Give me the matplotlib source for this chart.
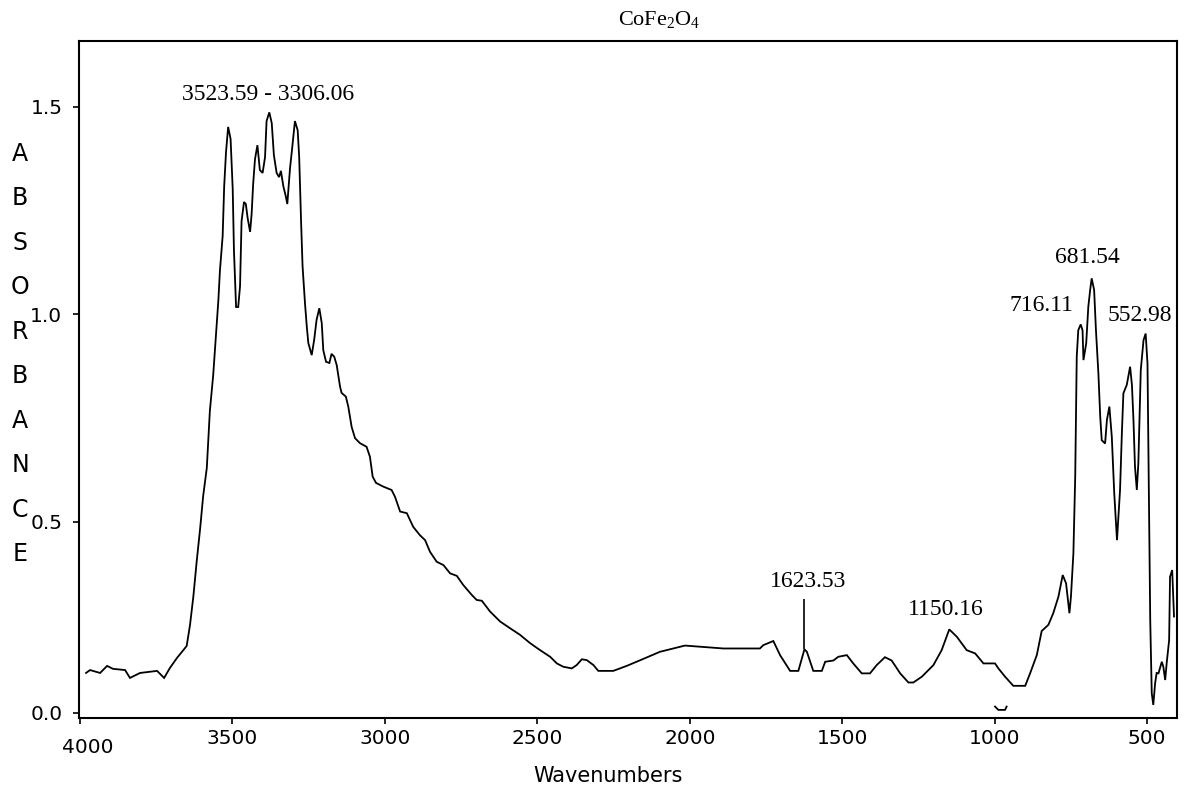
import matplotlib
matplotlib.use("Agg")
import matplotlib.pyplot as plt
from matplotlib.transforms import ScaledTranslation

# ---- data ----
wavenumbers = [3980, 3967, 3934, 3911, 3892, 3852, 3836, 3803, 3747, 3724,
               3705, 3682, 3650, 3639, 3628, 3617, 3606, 3596, 3584, 3574,
               3563, 3554, 3546, 3541, 3532, 3527, 3521, 3514, 3506, 3499,
               3495, 3488, 3481, 3475, 3470, 3462, 3456, 3450, 3442, 3437,
               3432, 3426, 3418, 3410, 3401, 3393, 3388, 3379, 3371, 3364,
               3355, 3347, 3341, 3333, 3325, 3320, 3311, 3304, 3295, 3286,
               3281, 3275, 3270, 3262, 3256, 3251, 3240, 3232, 3224, 3215,
               3207, 3202, 3193, 3182, 3175, 3166, 3158, 3147, 3142, 3128,
               3120, 3109, 3098, 3082, 3060, 3049, 3040, 3029, 3005, 2978,
               2967, 2950, 2928, 2907, 2885, 2868, 2852, 2830, 2808, 2786,
               2764, 2743, 2715, 2699, 2682, 2655, 2622, 2590, 2557, 2524,
               2491, 2458, 2436, 2415, 2387, 2371, 2354, 2338, 2316, 2300,
               2251, 2207, 2152, 2098, 2054, 2016, 1890, 1770, 1759, 1726,
               1704, 1671, 1644, 1624, 1616, 1595, 1567, 1556, 1529, 1513,
               1485, 1464, 1436, 1409, 1387, 1360, 1338, 1310, 1283, 1267,
               1239, 1201, 1174, 1149, 1124, 1092, 1064, 1037, 999, 988,
               966, 939, 900, 884, 862, 846, 824, 808, 791, 777,
               766, 755, 750, 742, 736, 731, 726, 718, 712, 709,
               700, 693, 687, 682, 674, 668, 660, 654, 649, 638,
               632, 624, 616, 608, 599, 589, 583, 578, 567, 556,
               550, 545, 540, 534, 529, 521, 512, 505, 499, 494,
               490, 485, 480, 474, 469, 463, 452, 447, 441, 436,
               428, 425, 418, 412]
absorbance = [0.135, 0.142, 0.135, 0.152, 0.145, 0.142, 0.123, 0.135, 0.140, 0.123,
              0.147, 0.171, 0.200, 0.251, 0.320, 0.405, 0.482, 0.561, 0.629, 0.766,
              0.853, 0.947, 1.034, 1.104, 1.188, 1.308, 1.390, 1.451, 1.422, 1.301,
              1.154, 1.017, 1.017, 1.067, 1.224, 1.270, 1.265, 1.231, 1.198, 1.241,
              1.313, 1.373, 1.407, 1.347, 1.340, 1.378, 1.465, 1.486, 1.460, 1.383,
              1.340, 1.330, 1.345, 1.308, 1.284, 1.265, 1.352, 1.400, 1.465, 1.443,
              1.378, 1.227, 1.116, 1.026, 0.969, 0.930, 0.901, 0.937, 0.986, 1.014,
              0.978, 0.913, 0.885, 0.882, 0.904, 0.897, 0.877, 0.825, 0.810, 0.801,
              0.777, 0.728, 0.701, 0.689, 0.680, 0.656, 0.608, 0.593, 0.584, 0.576,
              0.560, 0.524, 0.520, 0.487, 0.467, 0.455, 0.427, 0.403, 0.395, 0.375,
              0.369, 0.347, 0.323, 0.311, 0.309, 0.283, 0.259, 0.243, 0.227, 0.207,
              0.190, 0.174, 0.158, 0.150, 0.146, 0.154, 0.168, 0.166, 0.154, 0.140,
              0.140, 0.152, 0.169, 0.186, 0.194, 0.201, 0.194, 0.194, 0.202, 0.212,
              0.178, 0.140, 0.140, 0.192, 0.186, 0.140, 0.140, 0.162, 0.165, 0.174,
              0.178, 0.158, 0.134, 0.134, 0.154, 0.173, 0.165, 0.134, 0.112, 0.112,
              0.126, 0.154, 0.190, 0.240, 0.222, 0.190, 0.182, 0.158, 0.158, 0.146,
              0.126, 0.104, 0.104, 0.134, 0.178, 0.236, 0.251, 0.279, 0.319, 0.371,
              0.351, 0.279, 0.319, 0.423, 0.608, 0.897, 0.961, 0.975, 0.961, 0.889,
              0.929, 1.018, 1.058, 1.086, 1.058, 0.961, 0.857, 0.753, 0.696, 0.688,
              0.745, 0.777, 0.704, 0.568, 0.455, 0.576, 0.713, 0.809, 0.829, 0.873,
              0.829, 0.745, 0.632, 0.576, 0.640, 0.865, 0.937, 0.953, 0.881, 0.544,
              0.263, 0.086, 0.058, 0.110, 0.135, 0.134, 0.162, 0.150, 0.118, 0.159,
              0.214, 0.367, 0.383, 0.271]

# small stray mark below the curve near 1000 cm-1
stray_wn = [999, 988, 966, 961]
stray_abs = [0.054, 0.046, 0.046, 0.054]

x_ticks = [4000, 3500, 3000, 2500, 2000, 1500, 1000, 500]
x_tick_labels = ["4000", "3500", "3000", "2500", "2000", "1500", "1000", "500"]
y_tick_values = [0.039, 0.5, 1.0, 1.5]
y_tick_labels = ["0.0", "0.5", "1.0", "1.5"]

peak_labels = ["3523.59 - 3306.06", "1623.53", "1150.16", "716.11", "681.54", "552.98"]
peak_label_x = [3383, 1612, 1160, 846, 695, 523]
peak_label_y = [1.528, 0.355, 0.287, 1.020, 1.136, 0.996]
marker_line_x = 1624
marker_line_y = (0.192, 0.3125)

title_text = r"CoFe$_{2}$O$_{4}$"
x_title = "Wavenumbers"
y_title = "ABSORBANCE"

# ---- drawing ----
plt.rcParams['mathtext.fontset'] = 'custom'
plt.rcParams['mathtext.rm'] = 'Liberation Serif'
plt.rcParams['mathtext.it'] = 'Liberation Serif:italic'
plt.rcParams['font.family'] = ['DejaVu Sans']

fig = plt.figure(figsize=(11.85, 7.93), dpi=100)
fig.patch.set_facecolor('white')
ax = fig.add_axes([0.0667, 0.0946, 0.9266, 0.8537])

ax.plot(wavenumbers, absorbance, color='black', lw=1.3, solid_joinstyle='miter')
ax.plot(stray_wn, stray_abs, color='black', lw=1.3)
ax.vlines(marker_line_x, marker_line_y[0], marker_line_y[1], color='black', lw=1.2)

ax.set_xlim(4003, 402)
ax.set_ylim(0.0265, 1.658)
ax.set_xticks(x_ticks)
ax.set_xticklabels(x_tick_labels)
ax.set_yticks(y_tick_values)
ax.set_yticklabels(y_tick_labels)

for sp in ax.spines.values():
    sp.set_linewidth(1.5)
ax.tick_params(direction='out', length=4, width=1.2, labelsize=14.5, colors='black')
ax.tick_params(axis='y', pad=8)
ax.tick_params(axis='x', pad=4)

# the 4000 label sits lower/right in the original
t0 = ax.xaxis.get_major_ticks()[0].label1
t0.set_transform(t0.get_transform() + ScaledTranslation(8 / 100, -9 / 100, fig.dpi_scale_trans))

for s, x, y in zip(peak_labels, peak_label_x, peak_label_y):
    ax.text(x, y, s, ha='center', va='center', fontsize=17, family='Liberation Serif')

ax.set_xlabel(x_title, fontsize=15)
ax.xaxis.set_label_coords(0.482, -0.0857)
ax.xaxis.label.set_va('center')

ax.set_ylabel("\n".join(y_title), rotation=0, fontsize=17, linespacing=2.08,
              ha='center', va='center')
ax.yaxis.set_label_coords(-0.0537, 0.5377)

fig.text(659 / 1185, 1 - 20 / 793, title_text, ha='center', va='center',
         fontsize=16, family='Liberation Serif')

fig.savefig("out.png", dpi=100)
